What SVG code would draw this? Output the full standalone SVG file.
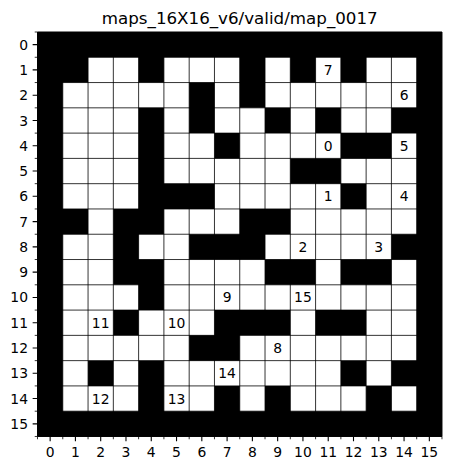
<svg xmlns="http://www.w3.org/2000/svg" width="454" height="470" viewBox="0 0 454 470">
<style>
text{font-family:"DejaVu Sans","Liberation Sans",sans-serif;fill:#000}
.t{font-size:16.7px;text-anchor:middle}
.lbl{font-size:13.9px;text-anchor:middle}
.yl{font-size:13.9px;text-anchor:end}
.xl{font-size:13.9px;text-anchor:middle}
.tick{stroke:#000;stroke-width:1.1;fill:none}
.mtick{stroke:#000;stroke-width:0.8;fill:none}
</style>
<rect width="454" height="470" fill="#fff"/>
<text class="t" x="239.75" y="24">maps_16X16_v6/valid/map_0017</text>
<g id="map" transform="translate(37.5 32) scale(25.28)">
<path id="walls" fill="#000" d="M0 0h16v1h-16z
M0 1h2v1h-2z M4 1h1v1h-1z M8 1h1v1h-1z M10 1h1v1h-1z M12 1h1v1h-1z M15 1h1v1h-1z
M0 2h1v1h-1z M6 2h1v1h-1z M8 2h1v1h-1z M15 2h1v1h-1z
M0 3h1v1h-1z M4 3h1v1h-1z M6 3h1v1h-1z M9 3h1v1h-1z M11 3h1v1h-1z M14 3h2v1h-2z
M0 4h1v1h-1z M4 4h1v1h-1z M7 4h1v1h-1z M12 4h2v1h-2z M15 4h1v1h-1z
M0 5h1v1h-1z M4 5h1v1h-1z M10 5h2v1h-2z M15 5h1v1h-1z
M0 6h1v1h-1z M4 6h3v1h-3z M12 6h1v1h-1z M15 6h1v1h-1z
M0 7h2v1h-2z M3 7h2v1h-2z M8 7h2v1h-2z M15 7h1v1h-1z
M0 8h1v1h-1z M3 8h1v1h-1z M6 8h3v1h-3z M14 8h2v1h-2z
M0 9h1v1h-1z M3 9h2v1h-2z M9 9h2v1h-2z M12 9h2v1h-2z M15 9h1v1h-1z
M0 10h1v1h-1z M4 10h1v1h-1z M15 10h1v1h-1z
M0 11h1v1h-1z M3 11h1v1h-1z M7 11h3v1h-3z M11 11h2v1h-2z M15 11h1v1h-1z
M0 12h1v1h-1z M6 12h2v1h-2z M15 12h1v1h-1z
M0 13h1v1h-1z M2 13h1v1h-1z M4 13h1v1h-1z M12 13h1v1h-1z M14 13h2v1h-2z
M0 14h1v1h-1z M4 14h1v1h-1z M7 14h1v1h-1z M9 14h1v1h-1z M13 14h1v1h-1z M15 14h1v1h-1z
M0 15h16v1h-16z"/>
<path id="grid" fill="none" stroke="#000" stroke-width="0.8" vector-effect="non-scaling-stroke" d="M1 0V16M2 0V16M3 0V16M4 0V16M5 0V16M6 0V16M7 0V16M8 0V16M9 0V16M10 0V16M11 0V16M12 0V16M13 0V16M14 0V16M15 0V16
M0 1H16M0 2H16M0 3H16M0 4H16M0 5H16M0 6H16M0 7H16M0 8H16M0 9H16M0 10H16M0 11H16M0 12H16M0 13H16M0 14H16M0 15H16"/>
<rect x="0" y="0" width="16" height="16" fill="none" stroke="#000" stroke-width="1" vector-effect="non-scaling-stroke"/>
</g>
<g id="labels">
<text class="lbl" x="328.22" y="74.97">7</text>
<text class="lbl" x="404.06" y="100.25">6</text>
<text class="lbl" x="328.22" y="150.81">0</text>
<text class="lbl" x="404.06" y="150.81">5</text>
<text class="lbl" x="328.22" y="201.37">1</text>
<text class="lbl" x="404.06" y="201.37">4</text>
<text class="lbl" x="302.94" y="251.93">2</text>
<text class="lbl" x="378.78" y="251.93">3</text>
<text class="lbl" x="227.1" y="302.49">9</text>
<text class="lbl" x="302.94" y="302.49">15</text>
<text class="lbl" x="100.7" y="327.77">11</text>
<text class="lbl" x="176.54" y="327.77">10</text>
<text class="lbl" x="277.66" y="353.05">8</text>
<text class="lbl" x="227.1" y="378.33">14</text>
<text class="lbl" x="100.7" y="403.61">12</text>
<text class="lbl" x="176.54" y="403.61">13</text>
</g>
<g id="yaxis">
<path class="tick" d="M32.64 44.64H37.5M32.64 69.92H37.5M32.64 95.2H37.5M32.64 120.48H37.5M32.64 145.76H37.5M32.64 171.04H37.5M32.64 196.32H37.5M32.64 221.6H37.5M32.64 246.88H37.5M32.64 272.16H37.5M32.64 297.44H37.5M32.64 322.72H37.5M32.64 348H37.5M32.64 373.28H37.5M32.64 398.56H37.5M32.64 423.84H37.5"/>
<path class="mtick" d="M34.72 32H37.5M34.72 57.28H37.5M34.72 82.56H37.5M34.72 107.84H37.5M34.72 133.12H37.5M34.72 158.4H37.5M34.72 183.68H37.5M34.72 208.96H37.5M34.72 234.24H37.5M34.72 259.52H37.5M34.72 284.8H37.5M34.72 310.08H37.5M34.72 335.36H37.5M34.72 360.64H37.5M34.72 385.92H37.5M34.72 411.2H37.5M34.72 436.48H37.5"/>
<text class="yl" x="28" y="49.69">0</text>
<text class="yl" x="28" y="74.97">1</text>
<text class="yl" x="28" y="100.25">2</text>
<text class="yl" x="28" y="125.53">3</text>
<text class="yl" x="28" y="150.81">4</text>
<text class="yl" x="28" y="176.09">5</text>
<text class="yl" x="28" y="201.37">6</text>
<text class="yl" x="28" y="226.65">7</text>
<text class="yl" x="28" y="251.93">8</text>
<text class="yl" x="28" y="277.21">9</text>
<text class="yl" x="28" y="302.49">10</text>
<text class="yl" x="28" y="327.77">11</text>
<text class="yl" x="28" y="353.05">12</text>
<text class="yl" x="28" y="378.33">13</text>
<text class="yl" x="28" y="403.61">14</text>
<text class="yl" x="28" y="428.89">15</text>
</g>
<g id="xaxis">
<path class="tick" d="M50.14 436.48V441.34M75.42 436.48V441.34M100.7 436.48V441.34M125.98 436.48V441.34M151.26 436.48V441.34M176.54 436.48V441.34M201.82 436.48V441.34M227.1 436.48V441.34M252.38 436.48V441.34M277.66 436.48V441.34M302.94 436.48V441.34M328.22 436.48V441.34M353.5 436.48V441.34M378.78 436.48V441.34M404.06 436.48V441.34M429.34 436.48V441.34"/>
<path class="mtick" d="M37.5 436.48V439.26M62.78 436.48V439.26M88.06 436.48V439.26M113.34 436.48V439.26M138.62 436.48V439.26M163.9 436.48V439.26M189.18 436.48V439.26M214.46 436.48V439.26M239.74 436.48V439.26M265.02 436.48V439.26M290.3 436.48V439.26M315.58 436.48V439.26M340.86 436.48V439.26M366.14 436.48V439.26M391.42 436.48V439.26M416.7 436.48V439.26M441.98 436.48V439.26"/>
<text class="xl" x="50.14" y="457">0</text>
<text class="xl" x="75.42" y="457">1</text>
<text class="xl" x="100.7" y="457">2</text>
<text class="xl" x="125.98" y="457">3</text>
<text class="xl" x="151.26" y="457">4</text>
<text class="xl" x="176.54" y="457">5</text>
<text class="xl" x="201.82" y="457">6</text>
<text class="xl" x="227.1" y="457">7</text>
<text class="xl" x="252.38" y="457">8</text>
<text class="xl" x="277.66" y="457">9</text>
<text class="xl" x="302.94" y="457">10</text>
<text class="xl" x="328.22" y="457">11</text>
<text class="xl" x="353.5" y="457">12</text>
<text class="xl" x="378.78" y="457">13</text>
<text class="xl" x="404.06" y="457">14</text>
<text class="xl" x="429.34" y="457">15</text>
</g>
</svg>
